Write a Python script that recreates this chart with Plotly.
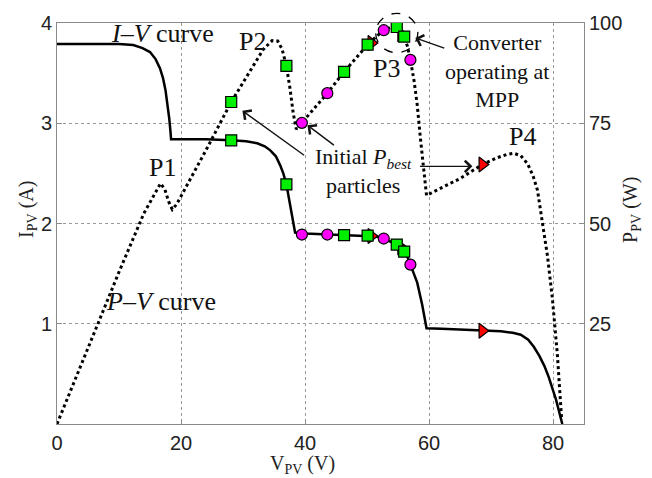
import plotly.graph_objects as go

# ---- I-V characteristic of the partially shaded PV string ----
iv_voltage = [0, 10, 12.3, 13.8, 15.0, 15.9, 16.6, 17.1, 17.5, 17.8, 18.1, 18.3, 18.4,
              20, 24, 28.1, 30.5, 32.3, 33.5, 34.4, 35.3, 36.0, 36.5, 37.0, 37.5, 38.0, 38.4,
              40, 45, 50, 51.5, 52.7, 53.8, 54.8, 55.5, 56.0, 56.5, 57.0, 57.6, 58.1, 58.9, 59.6,
              62, 65, 68.6, 71.6, 73.5, 74.8, 76.0, 76.9, 77.8, 78.6, 79.3, 79.9, 80.5, 81.0, 81.5]
iv_current = [3.79, 3.79, 3.78, 3.75, 3.71, 3.64, 3.55, 3.45, 3.33, 3.20, 3.05, 2.92, 2.84,
              2.84, 2.84, 2.83, 2.82, 2.80, 2.77, 2.73, 2.67, 2.58, 2.50, 2.39, 2.22, 2.03, 1.91,
              1.90, 1.89, 1.88, 1.87, 1.85, 1.82, 1.79, 1.76, 1.72, 1.67, 1.59, 1.50, 1.41, 1.19, 0.955,
              0.95, 0.94, 0.93, 0.925, 0.91, 0.89, 0.84, 0.77, 0.68, 0.58, 0.47, 0.36, 0.24, 0.12, 0.0]

# ---- P-V characteristic ----
pv_voltage = [0, 6.4, 10, 14, 15.8, 16.7, 17.4, 18.0, 18.6, 19.3, 20, 24, 28.1, 31, 33.3, 34.7,
              35.6, 36.3, 37.0, 37.6, 38.1, 38.6, 39.5, 43.6, 46.3, 50.1, 51.5, 52.7, 53.8, 54.8,
              55.5, 56.0, 56.5, 57.0, 57.6, 58.1, 58.6, 59.2, 59.6, 62, 65, 68.6, 71.0, 72.5, 73.7,
              74.8, 75.9, 76.8, 77.5, 78.3, 79.1, 79.9, 80.7, 81.4]
pv_power = [0, 24.4, 37.9, 52.5, 57.3, 60.0, 58.5, 55.5, 53.5, 54.8, 56.8, 68.2, 80.3, 87.5, 93.5, 95.6,
            95.5, 93.5, 89.3, 83.5, 77.5, 73.5, 75.1, 82.5, 87.8, 94.6, 96.6, 98.2, 98.9, 99.0,
            98.2, 96.6, 94.3, 90.8, 85.5, 79.6, 71.5, 63.2, 57.0, 58.9, 61.2, 64.7, 66.4, 67.2, 67.5,
            66.9, 64.9, 61.8, 58.3, 50.1, 42.0, 31.3, 17.4, 1.0]

# ---- PSO particles ----
square_v = [28.1, 37.0, 46.3, 50.1, 54.8, 56.0]
square_i = [2.83, 2.39, 1.885, 1.88, 1.79, 1.72]
square_p = [80.3, 89.3, 87.8, 94.6, 99.0, 96.6]

circle_v = [39.5, 43.6, 52.7, 57.0]
circle_i = [1.89, 1.89, 1.85, 1.59]
circle_p = [75.1, 82.5, 98.2, 90.8]

triangle_v = [50.7, 55.5, 68.6]
triangle_i = [1.875, 1.76, 0.93]
triangle_p = [95.0, 97.2, 64.7]

x_ticks = [0, 20, 40, 60, 80]
i_ticks = [1, 2, 3, 4]
p_ticks = [25, 50, 75, 100]

X_RANGE = (0, 85)
I_RANGE = (0, 4)
P_RANGE = (0, 100)

SERIF = "Liberation Serif"
SANS = "Liberation Sans"

fig = go.Figure()

fig.add_trace(go.Scatter(x=pv_voltage, y=pv_power, yaxis="y2", mode="lines",
                         line=dict(color="black", width=3, dash="dot"), showlegend=False))
fig.add_trace(go.Scatter(x=iv_voltage, y=iv_current, mode="lines",
                         line=dict(color="black", width=2.5), showlegend=False))

tri_marker = dict(symbol="triangle-right", size=13, color="#ff0000", line=dict(color="black", width=1.2))
sq_marker = dict(symbol="square", size=11, color="#00ee00", line=dict(color="black", width=1.2))
ci_marker = dict(symbol="circle", size=11, color="#ff00ff", line=dict(color="black", width=1.2))

fig.add_trace(go.Scatter(x=triangle_v, y=triangle_i, mode="markers", marker=tri_marker, showlegend=False))
fig.add_trace(go.Scatter(x=triangle_v, y=triangle_p, yaxis="y2", mode="markers", marker=tri_marker,
                         showlegend=False))
fig.add_trace(go.Scatter(x=square_v, y=square_i, mode="markers", marker=sq_marker, showlegend=False))
fig.add_trace(go.Scatter(x=square_v, y=square_p, yaxis="y2", mode="markers", marker=sq_marker,
                         showlegend=False))
fig.add_trace(go.Scatter(x=circle_v, y=circle_i, mode="markers", marker=ci_marker, showlegend=False))
fig.add_trace(go.Scatter(x=circle_v, y=circle_p, yaxis="y2", mode="markers", marker=ci_marker,
                         showlegend=False))

axis_common = dict(showline=True, linecolor="#8a8a8a", linewidth=1, ticks="inside", ticklen=5,
                   tickcolor="#8a8a8a", tickfont=dict(family=SANS, size=20, color="#222"),
                   zeroline=False)

fig.update_layout(
    width=652, height=478,
    margin=dict(l=57, r=68, t=17, b=54),
    paper_bgcolor="white", plot_bgcolor="white",
    xaxis=dict(range=list(X_RANGE), tickvals=x_ticks, mirror=True, showgrid=True,
               gridcolor="#9a9a9a", griddash="dot", gridwidth=1, ticklabelstandoff=1,
               **axis_common),
    yaxis=dict(range=list(I_RANGE), tickvals=i_ticks, showgrid=True,
               gridcolor="#9a9a9a", griddash="dot", gridwidth=1, **axis_common),
    yaxis2=dict(range=list(P_RANGE), tickvals=p_ticks, overlaying="y", side="right",
                showgrid=False, **axis_common),
)


def to_paper(v, p):
    """Voltage / power value -> paper fractions of the plotting area."""
    return ((v - X_RANGE[0]) / (X_RANGE[1] - X_RANGE[0]),
            (p - P_RANGE[0]) / (P_RANGE[1] - P_RANGE[0]))


# dashed ring around the maximum power point
cx0, cy0 = to_paper(51.4, 92.6)
cx1, cy1 = to_paper(58.2, 102.4)
fig.add_shape(type="circle", xref="paper", yref="paper", x0=cx0, y0=cy0, x1=cx1, y1=cy1,
              line=dict(color="black", width=1.3, dash="dash"))

# axis titles
title_font = dict(family=SERIF, size=20, color="#222")
fig.add_annotation(text="V<sub>PV</sub> (V)", xref="paper", yref="paper", x=0.465, y=-0.101,
                   xanchor="center", yanchor="middle", showarrow=False, font=title_font)
fig.add_annotation(text="I<sub>PV</sub> (A)", xref="paper", yref="paper", x=-0.056, y=0.535,
                   xanchor="center", yanchor="middle", textangle=-90, showarrow=False,
                   font=title_font)
fig.add_annotation(text="P<sub>PV</sub> (W)", xref="paper", yref="paper", x=1.09, y=0.535,
                   xanchor="center", yanchor="middle", textangle=-90, showarrow=False,
                   font=title_font)

big = dict(family=SERIF, size=26, color="#111")
mid = dict(family=SERIF, size=22, color="#111")

fig.add_annotation(text="<i>I</i>\u2013<i>V</i> curve", x=8.4, y=3.9, xanchor="left",
                   showarrow=False, font=big)
fig.add_annotation(text="<i>P</i>\u2013<i>V</i> curve", x=7.6, y=1.22, xanchor="left",
                   showarrow=False, font=big)
fig.add_annotation(text="P1", x=17.0, y=2.56, showarrow=False, font=big)
fig.add_annotation(text="P2", x=31.5, y=3.82, showarrow=False, font=big)
fig.add_annotation(text="P3", x=53.2, y=3.55, showarrow=False, font=big)
fig.add_annotation(text="P4", x=75.1, y=2.87, showarrow=False, font=big)

fig.add_annotation(text="Initial <i>P</i><sub><i>best</i></sub><br>particles", x=49.5, y=2.52,
                   showarrow=False, font=mid)
fig.add_annotation(text="Converter<br>operating at<br>MPP", x=70.9, y=3.52,
                   showarrow=False, font=mid)

arrow_style = dict(showarrow=True, arrowhead=4, arrowsize=1.6, arrowwidth=1.4, arrowcolor="#111",
                   axref="x", ayref="y", text="")
fig.add_annotation(x=29.9, y=3.125, ax=40.1, ay=2.67, **arrow_style)
fig.add_annotation(x=40.4, y=2.98, ax=44.9, ay=2.77, **arrow_style)
fig.add_annotation(x=67.0, y=2.57, ax=58.3, ay=2.57, **arrow_style)
fig.add_annotation(x=57.8, y=3.85, ax=62.7, ay=3.745, **arrow_style)

fig.write_html("out.html")
